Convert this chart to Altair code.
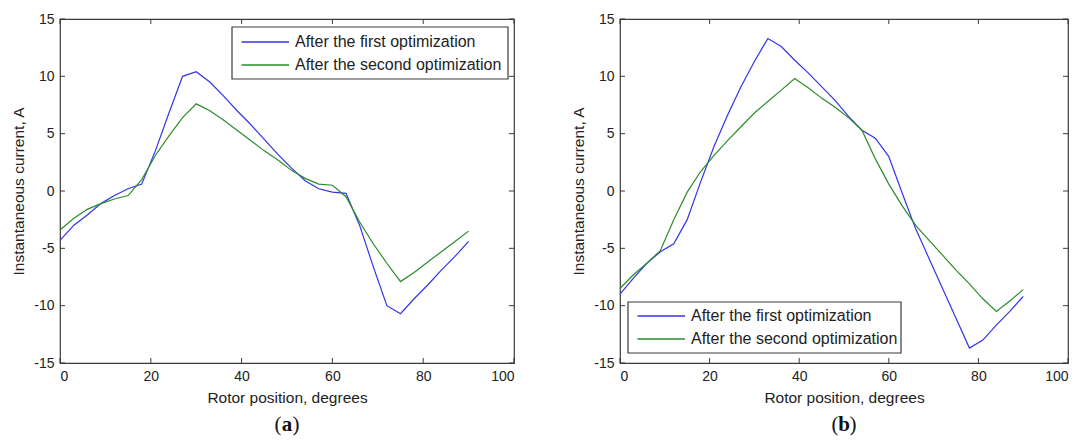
import altair as alt
import pandas as pd

# Rotor angle samples (degrees)
angles = [0, 3, 6, 9, 12, 15, 18, 21, 24, 27, 30, 33, 36, 39, 42, 45,
          48, 51, 54, 57, 60, 63, 66, 69, 72, 75, 78, 81, 84, 87, 90]

# Panel (a): instantaneous phase current, A
first_a = [-4.3, -3.0, -2.1, -1.1, -0.4, 0.2, 0.6, 3.5, 6.8, 10.0, 10.4,
           9.5, 8.3, 7.0, 5.8, 4.5, 3.2, 2.0, 0.9, 0.2, -0.1, -0.2, -3.0,
           -6.6, -10.0, -10.7, -9.4, -8.2, -6.9, -5.7, -4.4]
second_a = [-3.4, -2.4, -1.6, -1.1, -0.7, -0.4, 1.0, 3.1, 4.8, 6.4, 7.6,
            7.0, 6.2, 5.3, 4.4, 3.5, 2.7, 1.8, 1.1, 0.6, 0.5, -0.5, -2.7,
            -4.6, -6.3, -7.9, -7.1, -6.2, -5.3, -4.4, -3.5]

# Panel (b): instantaneous phase current, A
first_b = [-9.0, -7.6, -6.3, -5.3, -4.6, -2.5, 0.8, 3.9, 6.6, 9.1, 11.3,
           13.3, 12.6, 11.4, 10.3, 9.1, 7.9, 6.5, 5.3, 4.6, 3.0, -0.2, -3.3,
           -5.9, -8.5, -11.1, -13.7, -13.0, -11.7, -10.5, -9.2]
second_b = [-8.5, -7.3, -6.3, -5.2, -2.5, -0.1, 1.7, 3.1, 4.4, 5.6, 6.8,
            7.8, 8.8, 9.8, 9.0, 8.1, 7.3, 6.4, 5.3, 2.8, 0.6, -1.3, -3.0,
            -4.3, -5.6, -6.9, -8.1, -9.4, -10.5, -9.6, -8.6]

series_names = ["After the first optimization", "After the second optimization"]
series_colors = ["#3333ee", "#2a8c2a"]

x_ticks = [0, 20, 40, 60, 80, 100]
y_ticks = [-15, -10, -5, 0, 5, 10, 15]

H = 344
FONT = "Liberation Sans"
FRAME = "#3a3a3a"
TICK_LEN = 5
PLAIN_LABEL = "'' + datum.value"  # hyphen-minus, as in the printed figure


def panel(first, second, width, legend_box, legend_rows, tag):
    df = pd.DataFrame({
        "angle": angles * 2,
        "current": first + second,
        "series": [series_names[0]] * len(angles) + [series_names[1]] * len(angles),
    })
    xs = alt.Scale(domain=[0, 100], nice=False, zero=False)
    ys = alt.Scale(domain=[-15, 15], nice=False, zero=False)
    x_axis = alt.Axis(values=x_ticks, title="Rotor position, degrees",
                      labelExpr=PLAIN_LABEL, titlePadding=7)
    y_axis = alt.Axis(values=y_ticks, title="Instantaneous current, A",
                      labelExpr=PLAIN_LABEL, titlePadding=7)

    lines = alt.Chart(df).mark_line(strokeWidth=1.2).encode(
        x=alt.X("angle:Q", scale=xs, axis=x_axis),
        y=alt.Y("current:Q", scale=ys, axis=y_axis),
        color=alt.Color("series:N",
                        scale=alt.Scale(domain=series_names, range=series_colors),
                        legend=None),
    )

    # inward tick marks on all four sides of the box
    xt = pd.DataFrame({"t": x_ticks})
    yt = pd.DataFrame({"t": y_ticks})
    tick_style = dict(color=FRAME, strokeWidth=1)
    bottom = alt.Chart(xt).mark_rule(**tick_style).encode(
        x=alt.X("t:Q", scale=xs, axis=x_axis),
        y=alt.value(H), y2=alt.value(H - TICK_LEN))
    top = alt.Chart(xt).mark_rule(**tick_style).encode(
        x=alt.X("t:Q", scale=xs, axis=x_axis),
        y=alt.value(0), y2=alt.value(TICK_LEN))
    left = alt.Chart(yt).mark_rule(**tick_style).encode(
        y=alt.Y("t:Q", scale=ys, axis=y_axis),
        x=alt.value(0), x2=alt.value(TICK_LEN))
    right = alt.Chart(yt).mark_rule(**tick_style).encode(
        y=alt.Y("t:Q", scale=ys, axis=y_axis),
        x=alt.value(width), x2=alt.value(width - TICK_LEN))

    one = pd.DataFrame({"k": [0]})
    bx0, by0, bx1, by1 = legend_box
    box = alt.Chart(one).mark_rect(fill="white", stroke=FRAME, strokeWidth=1.2).encode(
        x=alt.value(bx0), x2=alt.value(bx1), y=alt.value(by0), y2=alt.value(by1))

    layers = [lines, bottom, top, left, right, box]
    lx0, lx1, tx = bx0 + 9.5, bx0 + 57, bx0 + 63
    for name, color, ry in zip(series_names, series_colors, legend_rows):
        layers.append(alt.Chart(one).mark_rule(color=color, strokeWidth=1.4).encode(
            x=alt.value(lx0), x2=alt.value(lx1), y=alt.value(ry)))
        layers.append(alt.Chart(pd.DataFrame({"label": [name]})).mark_text(
            align="left", baseline="middle", font=FONT, fontSize=16, color="#222"
        ).encode(x=alt.value(tx), y=alt.value(ry), text="label:N"))

    # panel tag, e.g. "(a)" with a bold letter
    cx, cy = width / 2, 406
    tag_style = dict(font="Liberation Serif", fontSize=21, color="#111", baseline="middle")
    layers.append(alt.Chart(pd.DataFrame({"s": ["("]})).mark_text(
        align="right", **tag_style).encode(x=alt.value(cx - 5.5), y=alt.value(cy), text="s:N"))
    layers.append(alt.Chart(pd.DataFrame({"s": [tag]})).mark_text(
        align="center", fontWeight="bold", **tag_style).encode(x=alt.value(cx), y=alt.value(cy), text="s:N"))
    layers.append(alt.Chart(pd.DataFrame({"s": [")"]})).mark_text(
        align="left", **tag_style).encode(x=alt.value(cx + 5.5), y=alt.value(cy), text="s:N"))

    return alt.layer(*layers).properties(width=width, height=H)


panel_a = panel(first_a, second_a, 454, (172, 8, 448, 60), (23, 46), "a")
panel_b = panel(first_b, second_b, 448, (8, 283, 281, 334), (297, 320), "b")

chart = alt.hconcat(panel_a, panel_b, spacing=106, bounds="flush").properties(
    padding={"left": 11, "top": 11, "right": 5, "bottom": 5},
    background="white",
).configure_view(
    stroke=FRAME, strokeWidth=1.2
).configure_axis(
    labelFont=FONT, labelFontSize=14, labelColor="#222", labelPadding=6,
    titleFont=FONT, titleFontSize=15.5, titleFontWeight="normal", titleColor="#222",
    domain=False, ticks=False, grid=False,
)

chart.save("out.html", embed_options={"renderer": "svg", "actions": False})
